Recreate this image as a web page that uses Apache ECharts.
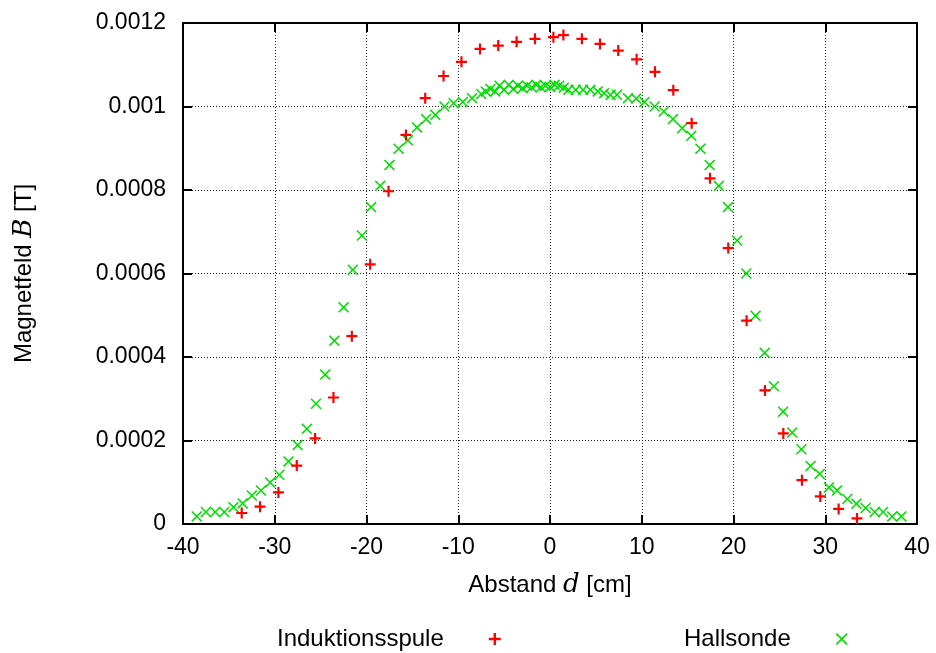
<!DOCTYPE html>
<html>
<head>
<meta charset="utf-8">
<script src="https://cdn.jsdelivr.net/npm/echarts@6/dist/echarts.min.js"></script>
<style>html,body{margin:0;padding:0;background:#fff;}#c{width:936px;height:653px;}</style>
</head>
<body>
<div id="c"></div>
<script>
// Induktionsspule (red +)
const indX = [-33.6,-31.6,-29.6,-27.6,-25.6,-23.6,-21.6,-19.6,-17.6,-15.7,-13.6,-11.6,-9.65,-7.63,-5.64,-3.64,-1.64,0.37,1.46,3.48,5.45,7.44,9.44,11.44,13.44,15.44,17.44,19.43,21.43,23.43,25.43,27.46,29.46,31.46,33.46];
const indB = [0.0000263,0.0000414,0.0000757,0.00014,0.000205,0.000303,0.00045,0.000622,0.000797,0.000932,0.00102,0.001073,0.001107,0.001138,0.001146,0.001155,0.001162,0.001166,0.001171,0.001162,0.00115,0.001134,0.001113,0.001083,0.001039,0.00096,0.000828,0.000661,0.000487,0.00032,0.000217,0.000105,0.000066,0.000036,0.0000134];
// Hallsonde (green x)
const hallX = [-38.5,-37.5,-36.5,-35.5,-34.5,-33.5,-32.5,-31.5,-30.5,-29.5,-28.5,-27.5,-26.5,-25.5,-24.5,-23.5,-22.5,-21.5,-20.5,-19.5,-18.5,-17.5,-16.5,-15.5,-14.5,-13.5,-12.5,-11.5,-10.5,-9.5,-8.5,
  -7.5,-7.0,-6.5,-6.0,-5.5,-5.0,-4.5,-4.0,-3.5,-3.0,-2.5,-2.0,-1.5,-1.0,-0.5,0.0,0.5,1.0,1.5,2.0,
  2.8,3.6,4.4,5.2,5.9,6.6,7.3,
  8.5,9.4,10.3,11.4,12.4,13.4,14.4,15.4,16.4,17.4,18.4,19.4,20.4,21.4,22.4,23.4,24.4,25.4,26.4,27.4,28.4,29.4,30.4,31.3,32.4,33.4,34.4,35.4,36.3,37.3,38.3];
const hallB = [0.0000182,0.0000287,0.0000287,0.0000287,0.0000402,0.0000493,0.0000683,0.0000802,0.0000996,0.000118,0.00015,0.000189,0.000228,0.000288,0.000358,0.000439,0.000519,0.000609,0.000691,0.000759,0.00081,0.00086,0.000899,0.000919,0.00095,0.00097,0.00098,0.001,0.001008,0.001011,0.00102,
  0.00103,0.001036,0.001042,0.001036,0.00105,0.00104,0.001052,0.001042,0.00105,0.001044,0.00105,0.001046,0.001052,0.001046,0.00105,0.001047,0.001052,0.00105,0.001045,0.00104,
  0.00104,0.00104,0.00104,0.001036,0.001032,0.001028,0.001028,
  0.00102,0.001019,0.001011,0.001,0.000988,0.00097,0.000948,0.00093,0.000899,0.00086,0.00081,0.000759,0.000679,0.0006,0.000499,0.00041,0.00033,0.000269,0.000219,0.000179,0.000139,0.00012,0.0000877,0.0000805,0.0000599,0.0000486,0.0000383,0.0000287,0.0000287,0.0000182,0.0000182];
const xTicks = [-40,-30,-20,-10,0,10,20,30,40];
const yTicks = ['0','0.0002','0.0004','0.0006','0.0008','0.001','0.0012'];

const PLUS = 'path://M4,0H6V4H10V6H6V10H4V6H0V4H4Z';
const CROSS = 'path://M0,1L1,0L5,4L9,0L10,1L6,5L10,9L9,10L5,6L1,10L0,9L4,5Z';
const FONT = '"Liberation Sans", Arial, sans-serif';

const chart = echarts.init(document.getElementById('c'), null, {renderer: 'canvas'});
const gridLine = {show: true, lineStyle: {color: '#222', width: 1, type: [1, 2]}};
const axLine = {show: true, onZero: false, lineStyle: {color: '#000', width: 2}};
const tick = {show: true, inside: true, length: 9, lineStyle: {color: '#000', width: 2}};

chart.setOption({
  animation: false,
  backgroundColor: '#fff',
  textStyle: {fontFamily: FONT},
  grid: {left: 183, right: 19, top: 23, bottom: 129, containLabel: false},
  xAxis: [{
    type: 'value', min: -40, max: 40, interval: 10, position: 'bottom',
    axisLine: axLine, axisTick: tick, splitLine: gridLine,
    axisLabel: {color: '#000', fontSize: 23, fontFamily: FONT, margin: 12,
      formatter: v => xTicks.includes(v) ? String(v) : ''},
    name: '{t|Abstand }{i|d}{t| [cm]}', nameLocation: 'middle', nameGap: 48,
    nameTextStyle: {rich: {t: {fontSize: 24, fontFamily: FONT, color: '#000'},
                           i: {fontSize: 26, fontFamily: '"DejaVu Serif", "Liberation Serif", serif', fontStyle: 'italic', color: '#000'}}}
  }, {
    type: 'value', min: -40, max: 40, interval: 10, position: 'top',
    axisLine: axLine, axisTick: tick, splitLine: {show: false}, axisLabel: {show: false}
  }],
  yAxis: [{
    type: 'value', min: 0, max: 0.0012, interval: 0.0002, position: 'left',
    axisLine: axLine, axisTick: tick, splitLine: gridLine,
    axisLabel: {color: '#000', fontSize: 23, fontFamily: FONT, margin: 17,
      formatter: v => yTicks[Math.round(v / 0.0002)]},
    name: '{t|Magnetfeld }{i|B}{t| [T]}', nameLocation: 'middle', nameGap: 146, nameRotate: 90,
    nameTextStyle: {rich: {t: {fontSize: 24, fontFamily: FONT, color: '#000'},
                           i: {fontSize: 26, fontFamily: '"DejaVu Serif", "Liberation Serif", serif', fontStyle: 'italic', color: '#000'}}}
  }, {
    type: 'value', min: 0, max: 0.0012, interval: 0.0002, position: 'right',
    axisLine: axLine, axisTick: tick, splitLine: {show: false}, axisLabel: {show: false}
  }],
  legend: [{
    data: ['Induktionsspule'], align: 'right', left: 277, top: 627, padding: 0, orient: 'horizontal',
    itemWidth: 12, itemHeight: 12,
    textStyle: {fontSize: 24, fontFamily: FONT, color: '#000', padding: [0, 40, 0, 0]}
  }, {
    data: ['Hallsonde'], align: 'right', left: 684, top: 627, padding: 0, orient: 'horizontal',
    itemWidth: 12, itemHeight: 12,
    textStyle: {fontSize: 24, fontFamily: FONT, color: '#000', padding: [0, 40, 0, 0]}
  }],
  series: [{
    name: 'Induktionsspule', type: 'scatter', symbol: PLUS, symbolSize: 11,
    itemStyle: {color: '#ff0000', opacity: 1},
    data: indX.map((x, i) => [x, indB[i]]), z: 3
  }, {
    name: 'Hallsonde', type: 'scatter', symbol: CROSS, symbolSize: 11,
    itemStyle: {color: '#00e000', opacity: 1},
    data: hallX.map((x, i) => [x, hallB[i]]), z: 2
  }]
});
</script>
</body>
</html>
